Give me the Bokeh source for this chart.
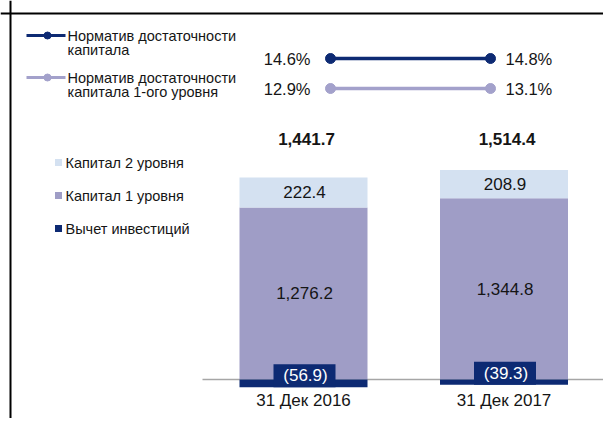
from bokeh.plotting import figure
from bokeh.models import Range1d, Span
from bokeh.core.properties import value
from bokeh.embed import file_html
from bokeh.resources import INLINE

# ---- data ----
categories = ["31 Дек 2016", "31 Дек 2017"]
tier1 = [1276.2, 1344.8]
tier2 = [222.4, 208.9]
deduction = [56.9, 39.3]
car_total = [14.6, 14.8]
car_tier1 = [12.9, 13.1]
series_names = ["Капитал 2 уровня", "Капитал 1 уровня", "Вычет инвестиций"]
line_names = [["Норматив достаточности", "капитала"],
              ["Норматив достаточности", "капитала 1-ого уровня"]]

# ---- style / layout ----
FONT = value("Liberation Sans")
NAVY = "#0d2a73"
T1 = "#9f9dc6"
T2 = "#d4e1f1"
LIGHT = "#a3a1cb"
TXT = "#151515"
S = 0.1348          # px per unit
BASE = 379          # pixel y of zero
W, H = 603, 418


def ypix(py):
    return (BASE - py) / S


p = figure(width=W, height=H, output_backend="svg", toolbar_location=None,
           x_range=Range1d(0, W), y_range=Range1d(ypix(H), ypix(0)),
           min_border=0, x_axis_location=None, y_axis_location=None,
           outline_line_color=None, background_fill_color="white",
           border_fill_color="white")
p.grid.visible = False

# frame
p.add_layout(Span(location=10, dimension="height", line_color="black", line_width=2))
p.add_layout(Span(location=ypix(13), dimension="width", line_color="black", line_width=2))

X0, DX, BW = 303, 200.5, 128
xs = [X0 + i * DX for i in range(len(categories))]

# axis line
p.segment(x0=[202], y0=[0], x1=[605], y1=[0], line_color="#a6a6a6", line_width=1.5)

# bars
lefts = [x - BW / 2 for x in xs]
rights = [x + BW / 2 for x in xs]
p.quad(left=lefts, right=rights, bottom=[0] * 2, top=tier1, fill_color=T1, line_color=None)
p.quad(left=lefts, right=rights, bottom=tier1, top=[a + b for a, b in zip(tier1, tier2)],
       fill_color=T2, line_color=None)
p.quad(left=lefts, right=rights, bottom=[-d for d in deduction], top=[0] * 2,
       fill_color=NAVY, line_color=None)

# deduction label boxes
BOXW, BOXH = 62, 23
p.quad(left=[x - BOXW / 2 + 1 for x in xs], right=[x + BOXW / 2 + 1 for x in xs],
       bottom=[-d for d in deduction], top=[-d + BOXH / S for d in deduction],
       fill_color=NAVY, line_color=None)
p.text(x=[x + 2 for x in xs], y=[-d + BOXH / 2 / S for d in deduction],
       text=["({:.1f})".format(d) for d in deduction], text_font=FONT,
       text_font_size="17px", text_color="white", text_align="center",
       text_baseline="middle")

# value labels
p.text(x=[x + 1 for x in xs], y=[a / 2 for a in tier1],
       text=["{:,.1f}".format(a) for a in tier1], text_font=FONT, text_font_size="17px",
       text_color=TXT, text_align="center", text_baseline="middle")
p.text(x=[x + 1 for x in xs], y=[a + b / 2 for a, b in zip(tier1, tier2)],
       text=["{:,.1f}".format(b) for b in tier2], text_font=FONT, text_font_size="17px",
       text_color=TXT, text_align="center", text_baseline="middle")
totals = [a + b - d for a, b, d in zip(tier1, tier2, deduction)]
p.text(x=[x + 3 for x in xs], y=[ypix(138)] * 2,
       text=["{:,.1f}".format(t) for t in totals], text_font=FONT, text_font_size="17px",
       text_font_style="bold", text_color=TXT, text_align="center", text_baseline="middle")

# category labels
p.text(x=xs, y=[ypix(400)] * 2, text=categories, text_font=FONT, text_font_size="17px",
       text_color=TXT, text_align="center", text_baseline="middle")

# ratio lines
LX = [330, 490]
for vals, yy, col in [(car_total, 58, NAVY), (car_tier1, 88, LIGHT)]:
    p.line(x=LX, y=[ypix(yy)] * 2, line_color=col, line_width=3.5)
    p.scatter(x=LX, y=[ypix(yy)] * 2, size=10, fill_color=col, line_color=col)
    p.text(x=[LX[0] - 20], y=[ypix(yy)], text=["{:.1f}%".format(vals[0])], text_font=FONT,
           text_font_size="16.5px", text_color=TXT, text_align="right", text_baseline="middle")
    p.text(x=[LX[1] + 15], y=[ypix(yy)], text=["{:.1f}%".format(vals[1])], text_font=FONT,
           text_font_size="16.5px", text_color=TXT, text_align="left", text_baseline="middle")

# top legend
for names, yy, col in [(line_names[0], 35, NAVY), (line_names[1], 77, LIGHT)]:
    p.line(x=[26, 65], y=[ypix(yy)] * 2, line_color=col, line_width=3)
    p.scatter(x=[47], y=[ypix(yy)], size=7, fill_color=col, line_color=col)
    p.text(x=[67, 67], y=[ypix(yy), ypix(yy + 14)], text=names, text_font=FONT,
           text_font_size="14.5px", text_color=TXT, text_align="left", text_baseline="middle")

# bottom legend
leg_cols = [T2, T1, NAVY]
leg_y = [162, 195, 228]
p.scatter(x=[58] * 3, y=[ypix(v) for v in leg_y], marker="square", size=7,
          fill_color=leg_cols, line_color=None)
p.text(x=[65] * 3, y=[ypix(v) for v in leg_y], text=series_names, text_font=FONT,
       text_font_size="14.5px", text_color=TXT, text_align="left", text_baseline="middle")

open("out.html", "w").write(file_html(p, INLINE))
